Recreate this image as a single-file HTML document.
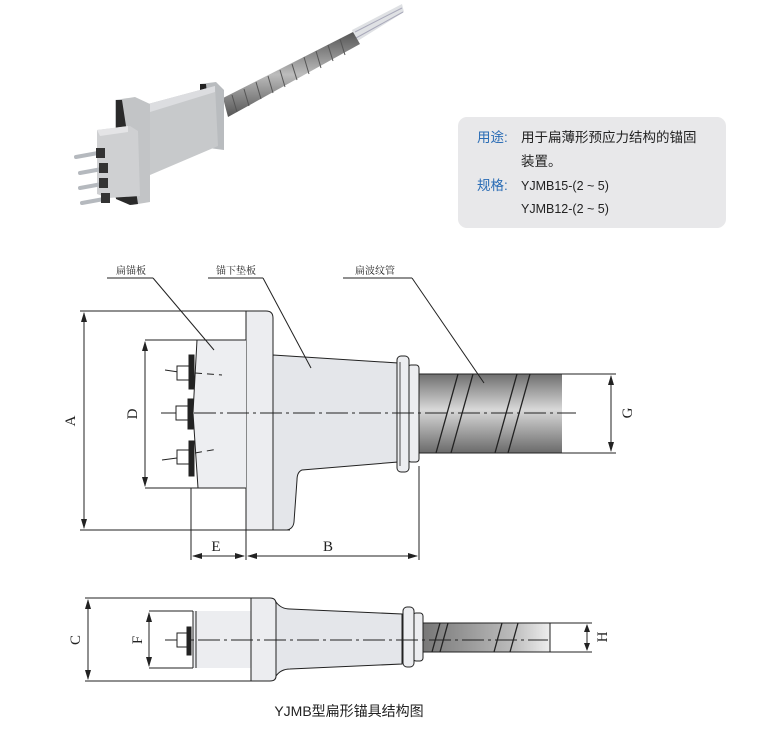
<!DOCTYPE html>
<html><head><meta charset="utf-8"><style>
html,body{margin:0;padding:0;background:#fff;}
svg{display:block;}
</style></head><body>
<svg width="769" height="730" viewBox="0 0 769 730" xmlns="http://www.w3.org/2000/svg" font-family="'Liberation Sans','Noto Sans CJK SC',sans-serif">
<defs>
<linearGradient id="tube" x1="0" y1="0" x2="0" y2="1">
<stop offset="0" stop-color="#6f6f6f"/><stop offset="0.45" stop-color="#d8d8d8"/><stop offset="1" stop-color="#6a6a6a"/>
</linearGradient>
<linearGradient id="tubeh" x1="0" y1="0" x2="1" y2="0">
<stop offset="0" stop-color="#777"/><stop offset="0.7" stop-color="#bbb"/><stop offset="1" stop-color="#eee"/>
</linearGradient>
<linearGradient id="ptube" x1="0" y1="0" x2="0" y2="1">
<stop offset="0" stop-color="#555"/><stop offset="0.5" stop-color="#bcbcbc"/><stop offset="1" stop-color="#555"/>
</linearGradient>
</defs>

<!-- Photo -->
<g>
<polygon points="352,30 402,4 404,12 356,42" fill="#dfe1e4"/>
<line x1="355" y1="32" x2="402" y2="8" stroke="#aab" stroke-width="1"/>
<line x1="356" y1="38" x2="403" y2="12" stroke="#aab" stroke-width="1"/>
<polygon points="223,98 353,32 360,44 228,117" fill="url(#ptube)"/>
<g stroke="#555" stroke-width="1">
<line x1="232" y1="95" x2="237" y2="112"/><line x1="244" y1="89" x2="249" y2="106"/><line x1="256" y1="82" x2="261" y2="99"/><line x1="268" y1="76" x2="273" y2="93"/><line x1="280" y1="70" x2="285" y2="87"/><line x1="292" y1="64" x2="297" y2="80"/><line x1="304" y1="57" x2="309" y2="74"/><line x1="316" y1="51" x2="321" y2="68"/><line x1="328" y1="45" x2="333" y2="61"/><line x1="340" y1="39" x2="345" y2="55"/>
</g>
<polygon points="200,84 216,82 224,90 224,150 209,148 200,146" fill="#b9bcbf"/>
<polygon points="200,84 206,84 212,146 200,146" fill="#222"/>
<polygon points="148,104 215,86 218,146 150,175" fill="#c7c9cb"/>
<polygon points="148,104 215,86 215,92 150,112" fill="#dcdde0"/>
<polygon points="115,100 135,97 150,104 150,202 132,205 115,198" fill="#c2c4c6"/>
<polygon points="116,100 122,100 138,204 130,205 116,199" fill="#2a2a2a"/>
<polygon points="97,130 130,126 138,131 140,196 108,198 97,194" fill="#cfd0d2"/>
<polygon points="97,130 128,126 128,132 100,136" fill="#e4e4e6"/>
<g stroke="#b5b9be" stroke-width="4" stroke-linecap="round">
<line x1="76" y1="157" x2="98" y2="153"/><line x1="80" y1="173" x2="102" y2="169"/><line x1="80" y1="188" x2="102" y2="184"/><line x1="82" y1="203" x2="104" y2="199"/>
</g>
<g fill="#333"><rect x="96" y="148" width="9" height="10"/><rect x="99" y="163" width="9" height="10"/><rect x="99" y="178" width="9" height="10"/><rect x="101" y="193" width="9" height="10"/></g>
</g>

<!-- Info box -->
<rect x="458" y="117" width="268" height="111" rx="9" fill="#e8e8ea"/>
<g font-size="13.5" fill="#222">
<text x="477" y="142" fill="#2a6cb5">用途:</text>
<text x="521" y="142">用于扁薄形预应力结构的锚固</text>
<text x="521" y="166">装置。</text>
<text x="477" y="190" fill="#2a6cb5">规格:</text>
<text x="521" y="190" font-size="12.5">YJMB15-(2 ~ 5)</text>
<text x="521" y="213" font-size="12.5">YJMB12-(2 ~ 5)</text>
</g>

<!-- Main view -->
<g stroke="#222" stroke-width="1" fill="none">
<rect x="419" y="374" width="143" height="79" fill="url(#tube)" stroke="none"/>
<line x1="419" y1="374" x2="562" y2="374"/><line x1="419" y1="453" x2="562" y2="453"/>
<g stroke="#222" stroke-width="1.3">
<line x1="458" y1="374" x2="436" y2="453"/><line x1="473" y1="374" x2="451" y2="453"/>
<line x1="517" y1="374" x2="495" y2="453"/><line x1="530" y1="374" x2="508" y2="453"/>
</g>
<path d="M273,355 L398,363 L398,462 L302,470 Q297,472 297,480 L294,522 Q293,530 285,530 L273,530 Z" fill="#e4e6ea"/>
<path d="M246,311 L266,311 Q273,311 273,318 L273,530 L246,530 Z" fill="#ecedf0"/>
<rect x="408" y="365" width="11" height="97" rx="3" fill="#ecedf0"/>
<rect x="397" y="356" width="12" height="116" rx="4" fill="#ecedf0"/>
<line x1="400" y1="362" x2="400" y2="466" stroke-width="0.8"/>
<path d="M197,340 L246,340 L246,488 L198,488 L193,413 Z" fill="#edeef1" stroke="none"/>
<path d="M197,340 L193,413 L198,488"/>
<line x1="145" y1="340" x2="246" y2="340"/>
<line x1="145" y1="488" x2="246" y2="488"/>
<line x1="80" y1="311" x2="246" y2="311"/>
<line x1="80" y1="530" x2="290" y2="530"/>
<line x1="84" y1="313" x2="84" y2="528"/>
<line x1="145" y1="342" x2="145" y2="486"/>
<line x1="562" y1="374" x2="616" y2="374"/><line x1="562" y1="453" x2="616" y2="453"/>
<line x1="611" y1="376" x2="611" y2="451"/>
<line x1="191" y1="488" x2="191" y2="560"/>
<line x1="246" y1="530" x2="246" y2="560"/>
<line x1="419" y1="466" x2="419" y2="560"/>
<line x1="193" y1="556" x2="244" y2="556"/>
<line x1="248" y1="556" x2="417" y2="556"/>
<line x1="161" y1="413" x2="576" y2="413" stroke-dasharray="22,4,3,4"/>
<line x1="195" y1="373" x2="222" y2="375" stroke-dasharray="7,5"/>
<line x1="195" y1="453" x2="218" y2="449" stroke-dasharray="7,5"/>
<line x1="107" y1="278" x2="153" y2="278"/><line x1="153" y1="278" x2="214" y2="350"/>
<line x1="208" y1="278" x2="263" y2="278"/><line x1="263" y1="278" x2="311" y2="368"/>
<line x1="343" y1="278" x2="412" y2="278"/><line x1="412" y1="278" x2="484" y2="383"/>
</g>
<g stroke="#222" fill="#fff" stroke-width="1">
<line x1="165" y1="370" x2="192" y2="374"/>
<rect x="177" y="366" width="12" height="14"/><rect x="189" y="355" width="5" height="34" fill="#222"/>
<line x1="162" y1="413" x2="192" y2="413"/>
<rect x="176" y="406" width="12" height="14"/><rect x="188" y="399" width="5" height="30" fill="#222"/>
<line x1="162" y1="460" x2="192" y2="456"/>
<rect x="177" y="450" width="12" height="14"/><rect x="189" y="441" width="5" height="35" fill="#222"/>
</g>
<g fill="#222">
<polygon points="84,312 81,322 87,322"/><polygon points="84,529 81,519 87,519"/>
<polygon points="145,341 142,351 148,351"/><polygon points="145,487 142,477 148,477"/>
<polygon points="611,375 608,385 614,385"/><polygon points="611,452 608,442 614,442"/>
<polygon points="192,556 202,553 202,559"/><polygon points="245,556 235,553 235,559"/>
<polygon points="247,556 257,553 257,559"/><polygon points="418,556 408,553 408,559"/>
<polygon points="88,599 85,609 91,609"/><polygon points="88,680 85,670 91,670"/>
<polygon points="149,612 146,622 152,622"/><polygon points="149,667 146,657 152,657"/>
<polygon points="587,624 584,632 590,632"/><polygon points="587,651 584,643 590,643"/>
</g>
<g font-family="'Liberation Serif','Noto Serif CJK SC',serif" font-size="15" fill="#222" text-anchor="middle">
<text transform="translate(75,421) rotate(-90)">A</text>
<text transform="translate(137,414) rotate(-90)">D</text>
<text transform="translate(632,413) rotate(-90)">G</text>
<text x="216" y="551">E</text>
<text x="328" y="551">B</text>
<text transform="translate(80,640) rotate(-90)">C</text>
<text transform="translate(142,640) rotate(-90)">F</text>
<text transform="translate(607,637) rotate(-90)">H</text>
</g>
<g font-family="'Noto Serif CJK SC',serif" font-size="10" fill="#222" text-anchor="middle">
<text x="131" y="274">扁锚板</text>
<text x="236" y="274">锚下垫板</text>
<text x="375" y="274">扁波纹管</text>
</g>

<!-- Side view -->
<g stroke="#222" stroke-width="1" fill="none">
<rect x="423" y="623" width="127" height="29" fill="url(#tubeh)" stroke="none"/>
<line x1="423" y1="623" x2="550" y2="623"/><line x1="423" y1="652" x2="550" y2="652"/><line x1="550" y1="623" x2="550" y2="652"/>
<g stroke-width="1.3">
<line x1="440" y1="623" x2="432" y2="652"/><line x1="448" y1="623" x2="440" y2="652"/>
<line x1="502" y1="623" x2="494" y2="652"/><line x1="518" y1="623" x2="510" y2="652"/>
</g>
<path d="M276,602 Q281,609 290,609 L402,614 L402,664 L290,669 Q281,669 276,676 Z" fill="#e4e6ea"/>
<path d="M251,598 L270,598 Q276,598 276,604 L276,676 Q276,681 270,681 L251,681 Z" fill="#ecedf0"/>
<rect x="193" y="611" width="58" height="57" fill="#ecedf0" stroke="none"/>
<line x1="251" y1="611" x2="251" y2="668"/>
<line x1="193" y1="611" x2="193" y2="668"/><line x1="196" y1="611" x2="196" y2="668"/>
<rect x="413" y="613" width="10" height="48" rx="3" fill="#ecedf0"/>
<rect x="403" y="607" width="11" height="60" rx="4" fill="#ecedf0"/>
<line x1="85" y1="598" x2="251" y2="598"/><line x1="85" y1="681" x2="251" y2="681"/>
<line x1="88" y1="600" x2="88" y2="679"/>
<line x1="149" y1="611" x2="193" y2="611"/><line x1="149" y1="668" x2="193" y2="668"/>
<line x1="149" y1="613" x2="149" y2="666"/>
<line x1="550" y1="623" x2="592" y2="623"/><line x1="550" y1="652" x2="592" y2="652"/>
<line x1="587" y1="625" x2="587" y2="650"/>
<line x1="165" y1="640" x2="548" y2="640" stroke-dasharray="22,4,3,4"/>
</g>
<g stroke="#222" fill="#fff">
<rect x="177" y="633" width="10" height="14"/><rect x="187" y="627" width="4" height="28" fill="#222"/>
</g>
<text x="349" y="716" font-size="14" fill="#222" text-anchor="middle">YJMB型扁形锚具结构图</text>
</svg>
</body></html>
